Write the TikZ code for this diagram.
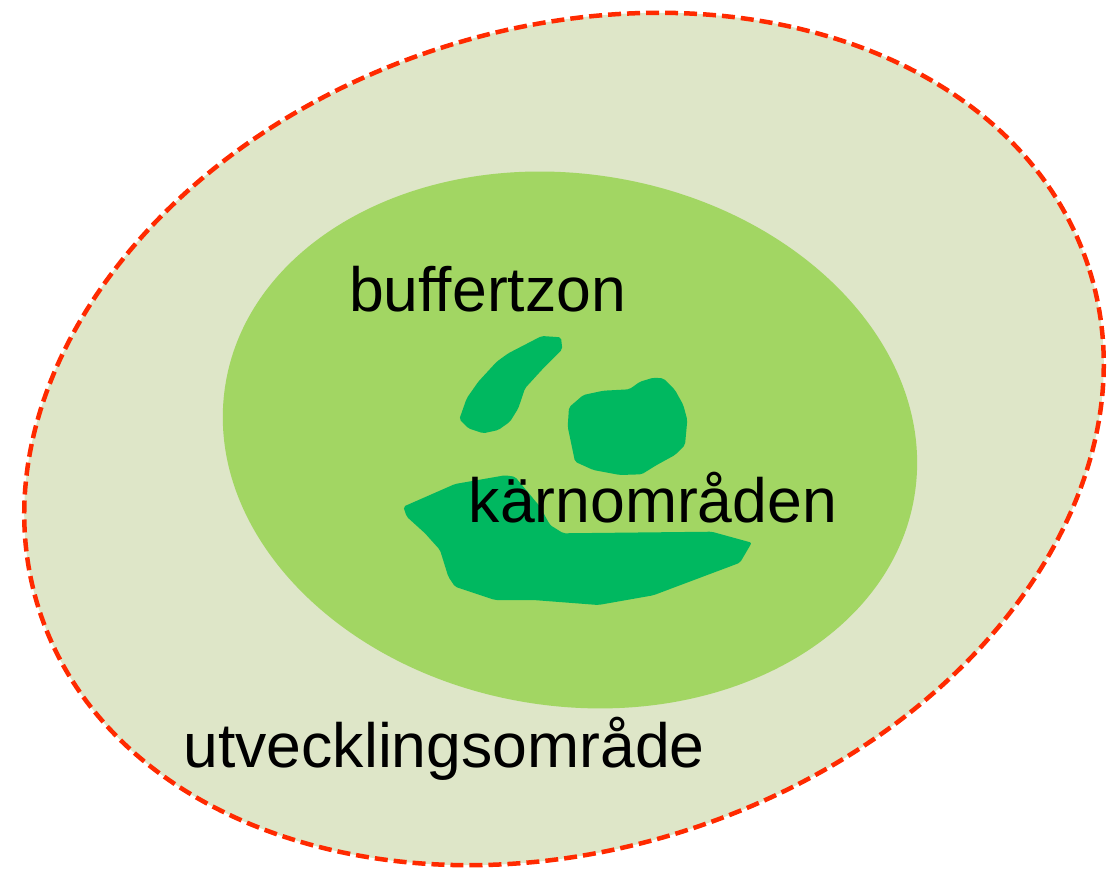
\documentclass[tikz,border=0pt]{standalone}
\usepackage{fontspec}
\setmainfont{Liberation Sans}
\definecolor{outerfill}{RGB}{222,230,200}
\definecolor{innerfill}{RGB}{162,214,99}
\definecolor{corefill}{RGB}{0,184,96}
\definecolor{borderred}{RGB}{255,42,0}
\tikzset{
  outerzone/.style={fill=outerfill, draw=borderred, line width=4.5pt, dash pattern=on 13pt off 6pt},
  innerzone/.style={fill=innerfill, draw=none},
  corezone/.style={fill=corefill, draw=none, rounded corners=2pt},
  lbl/.style={inner sep=0pt, anchor=base west, font=\fontsize{62.5}{70}\selectfont, text=black}
}
\begin{document}
\begin{tikzpicture}[x=1pt,y=-1pt]
\useasboundingbox (0,0) rectangle (1108,870);
\coordinate (oc) at (564,439);
\coordinate (ic) at (570,440);
\path[outerzone, rotate around={18.3:(oc)}] (oc) ellipse [x radius=552pt, y radius=410pt];
\path[innerzone, rotate around={-9.15:(ic)}] (ic) ellipse [x radius=349pt, y radius=266pt];
% core areas
\path[corezone] (541.7,336) -- (561,337.3) -- (562.3,349.3) -- (543.3,368.3) -- (525,388.3) -- (518.3,408.3) -- (510,421.7) -- (498.3,430) -- (483.3,433.3) -- (468.3,428.3) -- (459.3,419.3) -- (466.7,398.3) -- (478.3,381.7) -- (496.7,361.7) -- (508.3,353.3) -- cycle;
\path[corezone] (569,407.3) -- (583.3,395) -- (603.3,390.7) -- (629.3,389.3) -- (640,381.7) -- (653.3,377.7) -- (663.3,378.3) -- (675,390) -- (683.3,405) -- (687.3,420) -- (685,445) -- (675,455) -- (656.7,465) -- (641.7,474.3) -- (620,475) -- (593.3,470) -- (575,461.7) -- (567.7,426.7) -- cycle;
\path[corezone] (403.3,506.7) -- (455,484) -- (505,475.3) -- (515,476.7) -- (540,506.7) -- (550,525) -- (563.3,533.3) -- (711.7,531.7) -- (751.7,542.7) -- (740,562.7) -- (653.3,595.3) -- (598.3,605) -- (533.3,600) -- (495,600) -- (455,586.7) -- (448.3,576.7) -- (440,550) -- (425,533.3) -- (406.7,516.7) -- cycle;
\node[lbl] (buffer) at (349,311) {buffertzon};
\node[lbl] (core) at (468.6,522) {kärnområden};
\node[lbl] (dev) at (183.4,767) {utvecklingsområde};
\end{tikzpicture}
\end{document}
